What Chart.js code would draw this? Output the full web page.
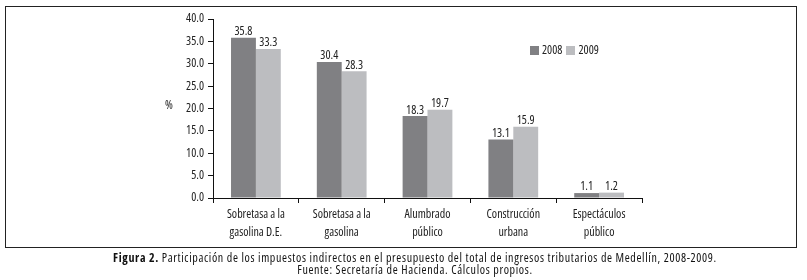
<!DOCTYPE html>
<html>
<head>
<meta charset="utf-8">
<script src="https://cdn.jsdelivr.net/npm/chart.js@4"></script>
<style>
  body { margin: 0; background: #fff; width: 807px; height: 280px; position: relative; overflow: hidden; }
  #marco { position: absolute; left: 5px; top: 6px; width: 790px; height: 240px; border: 1.5px solid #222; }
  #caja { position: absolute; left: 0; top: 0; width: 807px; height: 250px; }
  #pct { position: absolute; left: 165px; top: 96px; font: condensed 12px 'Open Sans', sans-serif; color: #222; }
  #leyenda { position: absolute; left: 530px; top: 41px; font: condensed 12px 'Open Sans', sans-serif; color: #222; display: flex; gap: 4px; }
  #leyenda span.sq { display: inline-block; width: 9px; height: 9px; margin-right: 3px; vertical-align: -1px; }
  .pie { position: absolute; left: 0; width: 830px; text-align: center; font: condensed 12px 'Open Sans', sans-serif; letter-spacing: 0.65px; color: #111; line-height: 12px; }
</style>
</head>
<body>
<div id="marco"></div>
<div id="caja"><canvas id="grafico"></canvas></div>
<div id="pct">%</div>
<div id="leyenda"></div>
<div class="pie" style="top:252px"><b>Figura 2.</b> Participación de los impuestos indirectos en el presupuesto del total de ingresos tributarios de Medellín, 2008-2009.</div>
<div class="pie" style="top:264px">Fuente: Secretaría de Hacienda. Cálculos propios.</div>
<script>
// Categorías y valores (%)
const categorias = [
  ['Sobretasa a la', 'gasolina D.E.'],
  ['Sobretasa a la', 'gasolina'],
  ['Alumbrado', 'público'],
  ['Construcción', 'urbana'],
  ['Espectáculos', 'público']
];
const valores2008 = [35.8, 30.4, 18.3, 13.1, 1.1];
const valores2009 = [33.3, 28.3, 19.7, 15.9, 1.2];
const series = ['2008', '2009'];
const colores = ['#808083', '#bcbdc0'];

const fuente = "'Open Sans', sans-serif";

// leyenda en html
const ley = document.getElementById('leyenda');
series.forEach((s, i) => {
  const it = document.createElement('div');
  it.innerHTML = '<span class="sq" style="background:' + colores[i] + '"></span>' + s;
  ley.appendChild(it);
});

// etiquetas encima de cada barra
const etiquetas = {
  id: 'etiquetas',
  afterDatasetsDraw(chart) {
    const ctx = chart.ctx;
    ctx.save();
    ctx.font = 'normal condensed 12px ' + fuente;
    ctx.fillStyle = '#222';
    ctx.textAlign = 'center';
    ctx.textBaseline = 'bottom';
    chart.data.datasets.forEach((ds, i) => {
      chart.getDatasetMeta(i).data.forEach((bar, j) => {
        ctx.fillText(ds.data[j].toFixed(1), bar.x, bar.y);
      });
    });
    ctx.restore();
  }
};

new Chart(document.getElementById('grafico'), {
  type: 'bar',
  data: {
    labels: categorias,
    datasets: [
      { label: series[0], data: valores2008, backgroundColor: colores[0] },
      { label: series[1], data: valores2009, backgroundColor: colores[1] }
    ]
  },
  options: {
    responsive: true,
    maintainAspectRatio: false,
    animation: false,
    datasets: { bar: { barPercentage: 1, categoryPercentage: 0.58 } },
    layout: { padding: { left: 0, right: 165, top: 19, bottom: 0 } },
    plugins: { legend: { display: false }, tooltip: { enabled: false } },
    scales: {
      y: {
        min: 0, max: 40,
        afterFit: (s) => { s.width = 213; },
        ticks: { stepSize: 5, color: '#222', padding: 4, font: { size: 12, family: fuente, weight: 'condensed' }, callback: (v) => v.toFixed(1) },
        grid: { drawOnChartArea: false, tickLength: 5, color: '#111' },
        border: { color: '#111', width: 1 }
      },
      x: {
        afterFit: (s) => { s.height = 52; },
        ticks: { color: '#222', padding: 3, font: { size: 12, family: fuente, weight: 'condensed', lineHeight: 1.5 } },
        grid: { drawOnChartArea: false, tickLength: 5, color: '#111' },
        border: { color: '#111', width: 1 }
      }
    }
  },
  plugins: [etiquetas]
});
</script>
</body>
</html>
